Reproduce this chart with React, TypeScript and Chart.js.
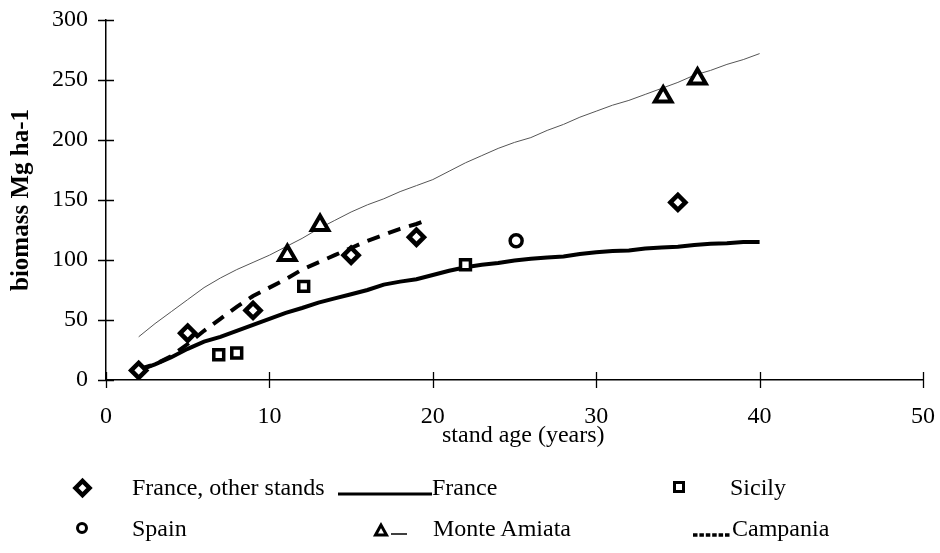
import React, { useEffect, useRef } from "react";
import { Chart, registerables } from "chart.js";

Chart.register(...registerables);

// ---- data (stand age in years, biomass in Mg ha-1) ----
const franceOtherAge = [2, 5, 9, 15, 19, 35];
const franceOtherBiomass = [8, 39, 58, 104, 119, 148];

const sicilyAge = [6.9, 8, 12.1, 22];
const sicilyBiomass = [21, 22.5, 78, 96];

const spainAge = [25.1];
const spainBiomass = [116];

const amiataAge = [11.1, 13.1, 34.1, 36.2];
const amiataBiomass = [104, 129, 236, 251];

const franceCurveAge = [2, 3, 4, 5, 6, 7, 8, 9, 10, 11, 12, 13, 14, 15, 16, 17, 18, 19, 20, 21, 22, 23, 24, 25, 26, 27, 28, 29, 30, 31, 32, 33, 34, 35, 36, 37, 38, 39, 40];
const franceCurveBiomass = [8, 13, 19, 26, 32, 36, 41, 46, 51, 56, 60, 64.5, 68, 71.5, 75, 79.5, 82, 84, 87.5, 91, 94, 96, 97.5, 99.5, 101, 102, 103, 105, 106.5, 107.5, 108, 109.5, 110.5, 111, 112.5, 113.5, 114, 115, 115];

const campaniaAge = [2, 3, 4, 5, 6, 7, 8, 9, 10, 11, 12, 13, 14, 15, 16, 17, 18, 19, 19.6];
const campaniaBiomass = [9, 13, 20, 30, 41, 51, 61, 70, 77, 84, 92, 98, 104, 110, 116, 121, 126, 130, 133];

const amiataCurveAge = [2, 3, 4, 5, 6, 7, 8, 9, 10, 11, 12, 13, 14, 15, 16, 17, 18, 19, 20, 21, 22, 23, 24, 25, 26, 27, 28, 29, 30, 31, 32, 33, 34, 35, 36, 37, 38, 39, 40];
const amiataCurveBiomass = [36, 47, 57, 67, 77, 85, 92, 98, 104, 111, 118, 126, 133, 140, 146, 151, 157, 162, 167, 174, 181, 187, 193, 198, 202, 208, 213, 219, 224, 229, 233, 238, 243, 248, 254, 258, 263, 267, 272];

const xTickMin = 0;
const xTickMax = 50;
const xTickStep = 10;
const yTickMin = 0;
const yTickMax = 300;
const yTickStep = 50;

const yTitle = "biomass Mg ha-1";
const xTitle = "stand age (years)";

const FONT = "'Liberation Serif', 'Times New Roman', Times, serif";

const pts = (xs: number[], ys: number[]) => xs.map((x, i) => ({ x, y: ys[i] }));

const crossTicks = {
  id: "crossTicks",
  afterDraw(chart: any) {
    const { ctx } = chart;
    const x = chart.scales.x;
    const y = chart.scales.y;
    ctx.save();
    ctx.strokeStyle = "#000";
    ctx.lineWidth = 1.3;
    ctx.beginPath();
    x.ticks.forEach((t: any) => {
      const px = Math.round(x.getPixelForValue(t.value)) + 0.5;
      ctx.moveTo(px, y.bottom - 8);
      ctx.lineTo(px, y.bottom + 8);
    });
    y.ticks.forEach((t: any) => {
      const py = Math.round(y.getPixelForValue(t.value)) + 0.5;
      ctx.moveTo(x.left - 8, py);
      ctx.lineTo(x.left + 8, py);
    });
    ctx.stroke();
    ctx.restore();
  },
};

function BiomassChart() {
  const ref = useRef<HTMLCanvasElement | null>(null);
  useEffect(() => {
    if (!ref.current) return;
    const markerBase = {
      showLine: false,
      borderColor: "#000",
      backgroundColor: "#fff",
    };
    const chart = new Chart(ref.current, {
      type: "scatter",
      data: {
        datasets: [
          { ...markerBase, label: "France, other stands", data: pts(franceOtherAge, franceOtherBiomass), pointStyle: "rectRot", pointRadius: 7.5, borderWidth: 4.5 },
          { ...markerBase, label: "Sicily", data: pts(sicilyAge, sicilyBiomass), pointStyle: "rect", pointRadius: 7, borderWidth: 3.5 },
          { ...markerBase, label: "Spain", data: pts(spainAge, spainBiomass), pointStyle: "circle", pointRadius: 6, borderWidth: 3.5 },
          { ...markerBase, label: "Monte Amiata", data: pts(amiataAge, amiataBiomass), pointStyle: "triangle", pointRadius: 9.5, borderWidth: 4 },
          { label: "France", data: pts(franceCurveAge, franceCurveBiomass), showLine: true, pointRadius: 0, borderColor: "#000", borderWidth: 4, tension: 0 },
          { label: "Campania", data: pts(campaniaAge, campaniaBiomass), showLine: true, pointRadius: 0, borderColor: "#000", borderWidth: 4, borderDash: [13, 9], tension: 0 },
          { label: "Monte Amiata curve", data: pts(amiataCurveAge, amiataCurveBiomass), showLine: true, pointRadius: 0, borderColor: "#555", borderWidth: 1, tension: 0 },
        ],
      },
      options: {
        animation: false,
        responsive: false,
        maintainAspectRatio: false,
        layout: { padding: { left: 0, right: 17, top: 20, bottom: 0 } },
        plugins: { legend: { display: false }, tooltip: { enabled: false } },
        scales: {
          x: {
            type: "linear",
            min: xTickMin,
            max: xTickMax,
            ticks: { stepSize: xTickStep, padding: 14, color: "#000", font: { family: FONT, size: 24 } },
            grid: { display: false },
            border: { display: true, color: "#000", width: 1.5 },
            afterFit: (s: any) => { s.height = 80; s.paddingLeft = 0; s.paddingRight = 0; },
          },
          y: {
            type: "linear",
            min: yTickMin,
            max: yTickMax,
            ticks: { stepSize: yTickStep, padding: 10, color: "#000", font: { family: FONT, size: 24 } },
            grid: { display: false },
            border: { display: true, color: "#000", width: 1.5 },
            title: { display: true, text: yTitle, color: "#000", font: { family: FONT, size: 25, weight: "bold" }, padding: { top: 7, bottom: 0 } },
            afterFit: (s: any) => { s.width = 106; s.paddingTop = 0; s.paddingBottom = 0; },
          },
        },
      },
      plugins: [crossTicks],
    } as any);
    return () => chart.destroy();
  }, []);
  return <canvas ref={ref} width={940} height={460} style={{ position: "absolute", left: 0, top: 0, display: "block" }} />;
}

const textStyle: React.CSSProperties = {
  position: "absolute",
  fontFamily: FONT,
  fontSize: 24,
  lineHeight: "24px",
  color: "#000",
  whiteSpace: "nowrap",
};

function Legend() {
  return (
    <>
      <svg width={940} height={553} style={{ position: "absolute", left: 0, top: 0, pointerEvents: "none" }}>
        <polygon points="75.5,488 82.5,481 89.5,488 82.5,495" fill="#fff" stroke="#000" strokeWidth={4.5} />
        <line x1={338} y1={494} x2={432} y2={494} stroke="#000" strokeWidth={3} />
        <rect x={674.5} y={482.5} width={9} height={9} fill="#fff" stroke="#000" strokeWidth={3} />
        <circle cx={82} cy={528} r={4.5} fill="#fff" stroke="#000" strokeWidth={3} />
        <polygon points="381,525 375.5,535 386.5,535" fill="#fff" stroke="#000" strokeWidth={3} />
        <line x1={391} y1={534} x2={407} y2={534} stroke="#000" strokeWidth={1.5} />
        <line x1={693} y1={535} x2={729.5} y2={535} stroke="#000" strokeWidth={3.5} strokeDasharray="4.5 1.9" />
      </svg>
      <div style={{ ...textStyle, left: 132, top: 475 }}>France, other stands</div>
      <div style={{ ...textStyle, left: 432, top: 475 }}>France</div>
      <div style={{ ...textStyle, left: 730, top: 475 }}>Sicily</div>
      <div style={{ ...textStyle, left: 132, top: 516 }}>Spain</div>
      <div style={{ ...textStyle, left: 433, top: 516 }}>Monte Amiata</div>
      <div style={{ ...textStyle, left: 732, top: 516 }}>Campania</div>
    </>
  );
}

export default function App() {
  return (
    <div style={{ position: "absolute", left: 0, top: 0, width: 940, height: 553, background: "#fff", overflow: "hidden" }}>
      <BiomassChart />
      <div style={{ ...textStyle, left: 442, top: 422 }}>{xTitle}</div>
      <Legend />
    </div>
  );
}
